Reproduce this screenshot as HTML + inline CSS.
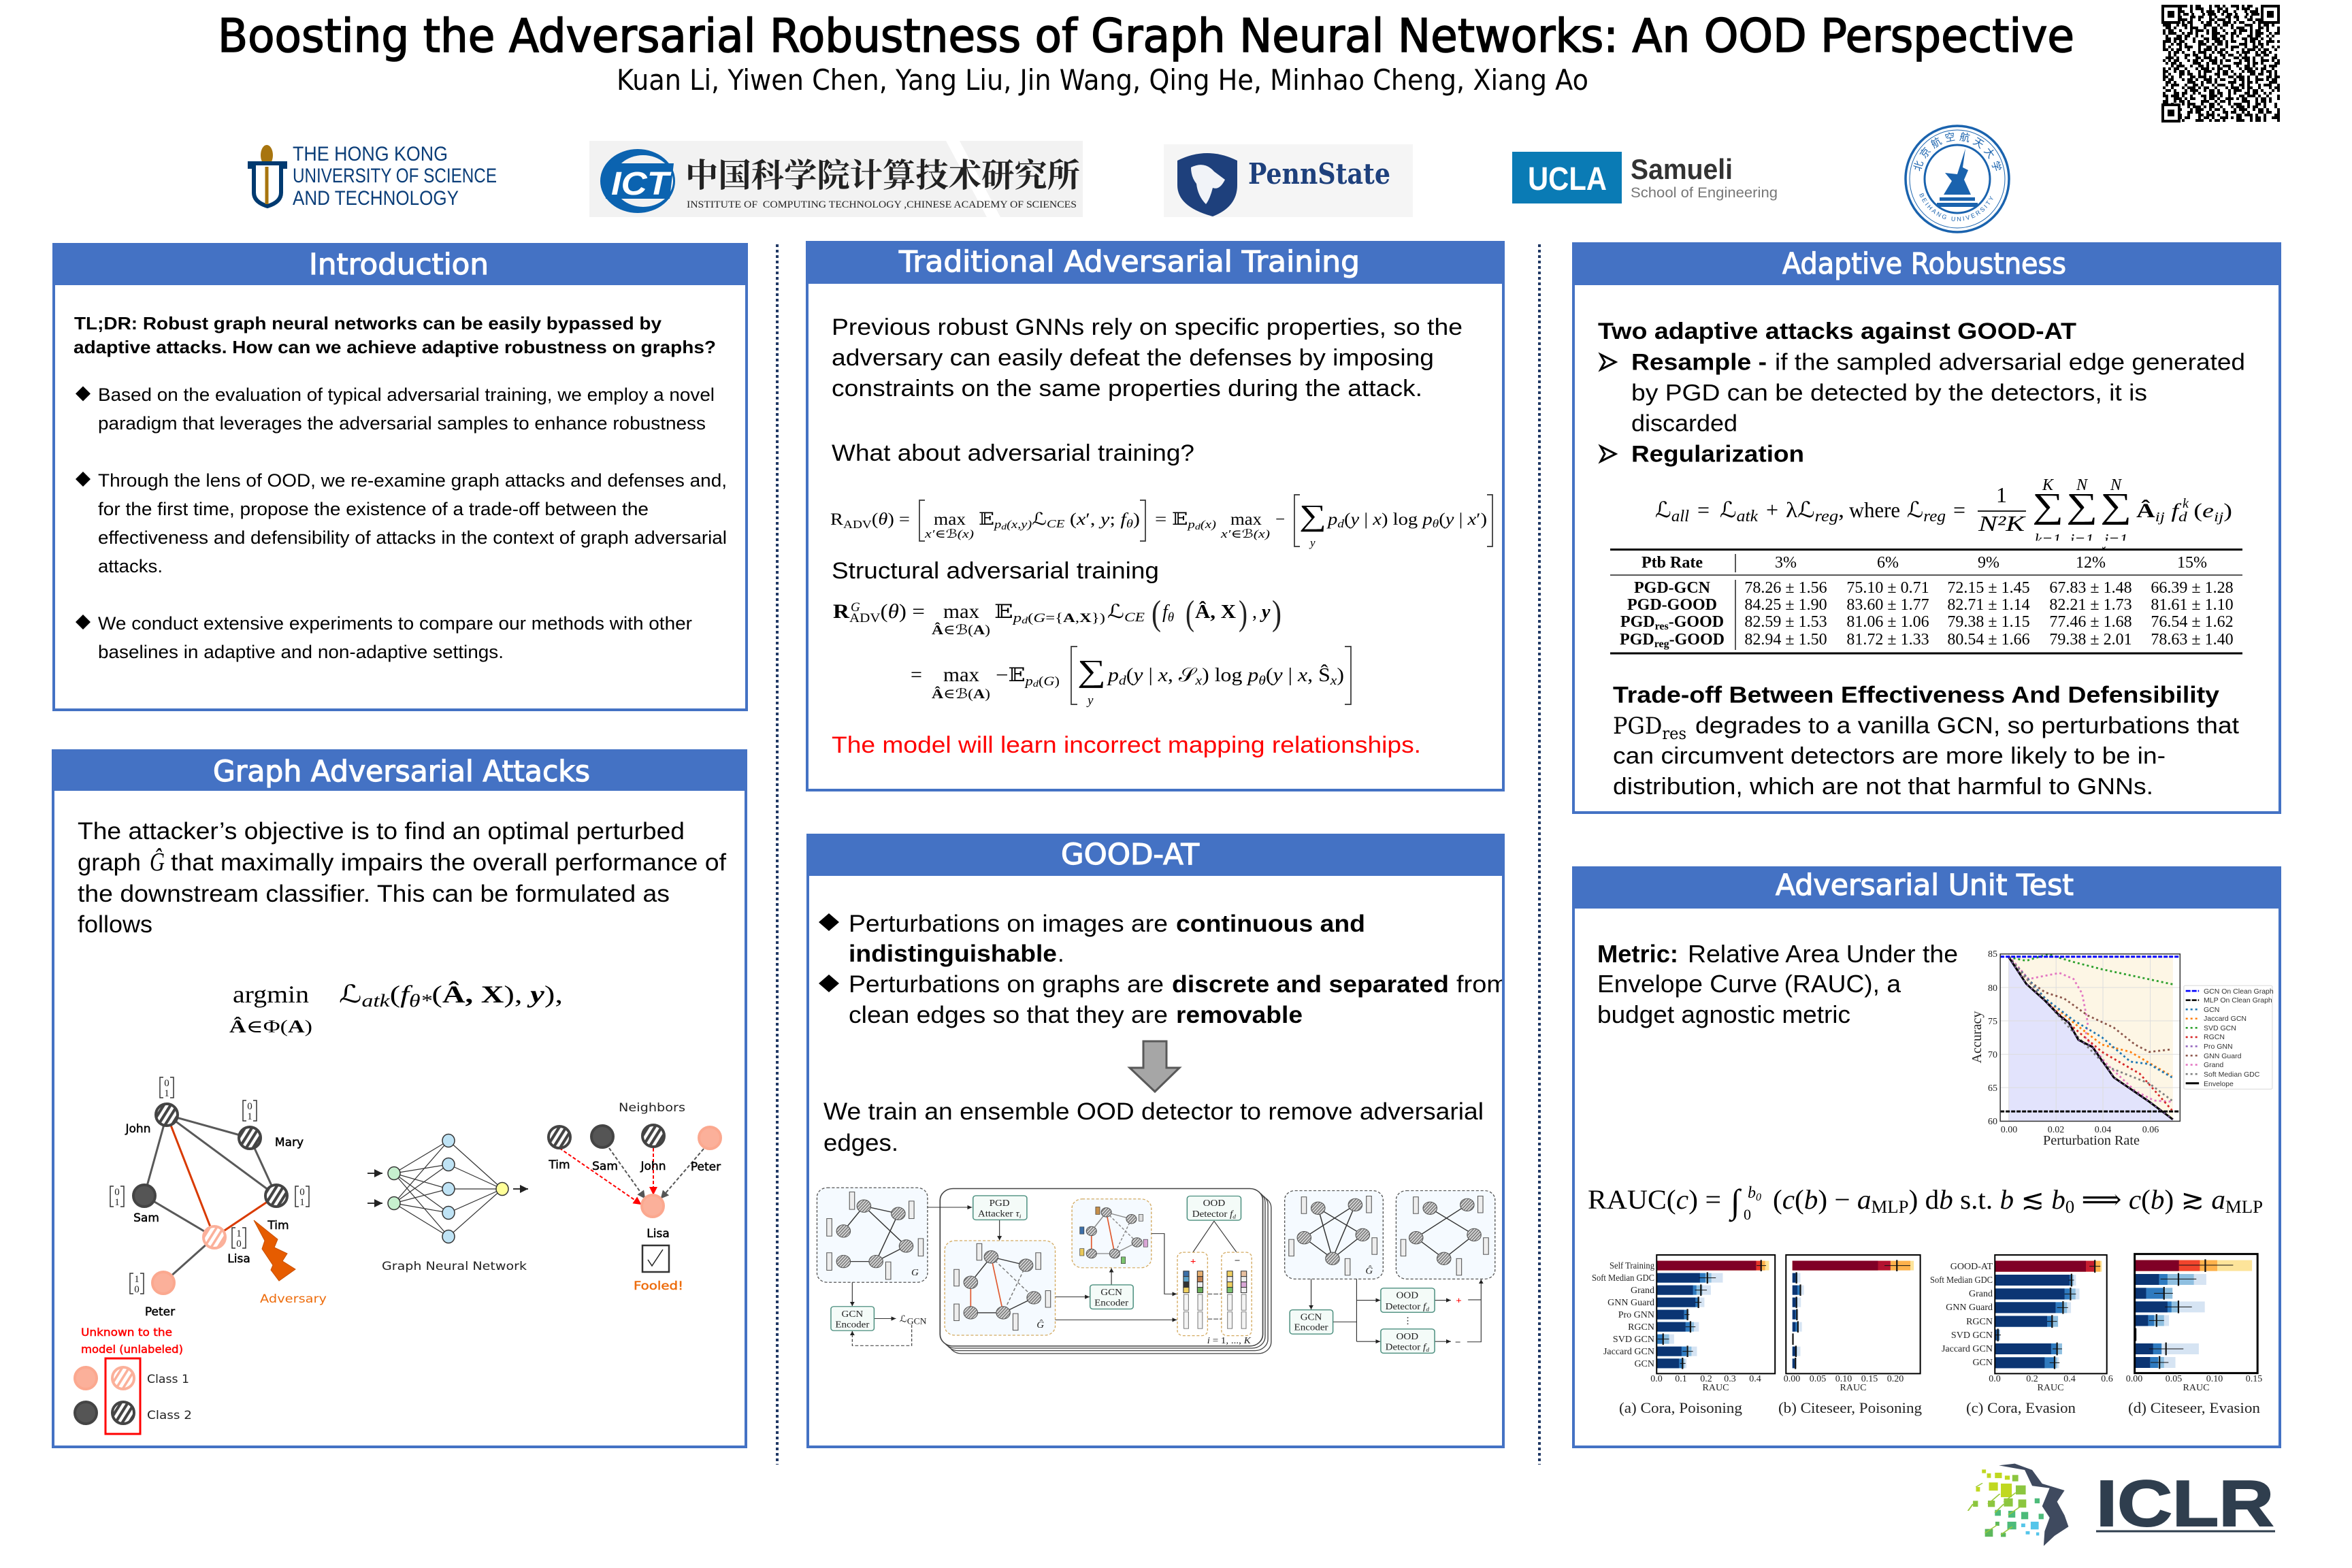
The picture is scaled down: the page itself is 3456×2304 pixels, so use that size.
<!DOCTYPE html>
<html><head><meta charset="utf-8"><style>
html,body{margin:0;padding:0;background:#fff;width:3456px;height:2304px;overflow:hidden}
svg{display:block}
text{font-family:"Liberation Sans","Noto Sans CJK SC",sans-serif;fill:#000;white-space:pre}
.h{font-family:"DejaVu Sans",sans-serif;fill:#fff;stroke:#fff;stroke-width:1.2}
.c{font-family:"DejaVu Sans",sans-serif;font-size:17px;stroke:#000;stroke-width:.5}
.m{font-family:"Liberation Serif","DejaVu Serif","DejaVu Sans",serif}
.i{font-style:italic}
.b{font-weight:bold}
.n{font-family:"Liberation Serif",serif;font-size:22px}
.t{font-family:"Liberation Serif",serif;font-size:24px}
.tk{font-family:"Liberation Serif",serif;font-size:14px;fill:#222}
.lg{font-family:"Liberation Sans",sans-serif;font-size:10.5px;fill:#333}
.mx{font-family:"Liberation Serif",serif;font-size:15px;fill:#222}
.dg{font-family:"Liberation Serif",serif;font-size:22px;text-anchor:middle;fill:#222}
</style></head><body>
<svg xmlns="http://www.w3.org/2000/svg" width="3456" height="2304" viewBox="0 0 3456 2304">
<defs>
<pattern id="hg" width="8.5" height="8.5" patternUnits="userSpaceOnUse" patternTransform="rotate(32)"><rect width="8.5" height="8.5" fill="#fff"/><rect width="4.2" height="8.5" fill="#444"/></pattern>
<pattern id="hp" width="8.5" height="8.5" patternUnits="userSpaceOnUse" patternTransform="rotate(32)"><rect width="8.5" height="8.5" fill="#fff"/><rect width="3.6" height="8.5" fill="#fbb09a"/></pattern>
<pattern id="hs" width="5" height="5" patternUnits="userSpaceOnUse" patternTransform="rotate(40)"><rect width="5" height="5" fill="#ddd"/><rect width="2.4" height="5" fill="#777"/></pattern>
<marker id="ak" markerWidth="7" markerHeight="7" refX="6" refY="3" orient="auto"><path d="M0 0L6 3L0 6z" fill="#222"/></marker>
<marker id="ar" markerWidth="6" markerHeight="6" refX="5" refY="3" orient="auto"><path d="M0 0L6 3L0 6z" fill="#f00"/></marker>
<marker id="ag" markerWidth="6" markerHeight="6" refX="5" refY="3" orient="auto"><path d="M0 0L6 3L0 6z" fill="#555"/></marker>
</defs>

<!-- Title -->
<text class="h" x="320" y="76" font-size="68" textLength="2728" lengthAdjust="spacingAndGlyphs" style="fill:#000;stroke:#000;stroke-width:1.6">Boosting the Adversarial Robustness of Graph Neural Networks: An OOD Perspective</text>
<text class="h" x="906" y="132" font-size="42" textLength="1428" lengthAdjust="spacingAndGlyphs" style="fill:#000;stroke:none">Kuan Li, Yiwen Chen, Yang Liu, Jin Wang, Qing He, Minhao Cheng, Xiang Ao</text>

<!-- QR -->
<g stroke="#000" stroke-width="4" fill="none">
<path d="M3178 9h172" stroke-dasharray="8 4 4 8 12 4 4 4 8 12 4 4"/>
<path d="M3178 13h172" stroke-dasharray="4 8 8 4 4 12 4 4 12 8"/>
<path d="M3178 17h172" stroke-dasharray="12 4 4 4 8 8 4 12 4 4"/>
<path d="M3178 21h172" stroke-dasharray="4 4 12 8 4 4 8 4 4 12" stroke-dashoffset="6"/>
<path d="M3178 25h172" stroke-dasharray="8 8 4 4 4 12 8 4"/>
<path d="M3178 29h172" stroke-dasharray="4 12 8 4 12 4 4 8" stroke-dashoffset="4"/>
<path d="M3178 33h172" stroke-dasharray="8 4 4 8 12 4 4 4 8 12 4 4" stroke-dashoffset="12"/>
<path d="M3178 37h172" stroke-dasharray="12 8 4 4 8 4 4 16"/>
<path d="M3178 41h172" stroke-dasharray="4 8 8 4 4 12 4 4 12 8" stroke-dashoffset="8"/>
<path d="M3178 45h172" stroke-dasharray="12 4 4 4 8 8 4 12 4 4" stroke-dashoffset="16"/>
<path d="M3178 49h172" stroke-dasharray="4 4 12 8 4 4 8 4 4 12"/>
<path d="M3178 53h172" stroke-dasharray="8 8 4 4 4 12 8 4" stroke-dashoffset="20"/>
<path d="M3178 57h172" stroke-dasharray="4 12 8 4 12 4 4 8" stroke-dashoffset="12"/>
<path d="M3178 61h172" stroke-dasharray="8 4 4 8 12 4 4 4 8 12 4 4" stroke-dashoffset="24"/>
<path d="M3178 65h172" stroke-dasharray="12 8 4 4 8 4 4 16" stroke-dashoffset="8"/>
<path d="M3178 69h172" stroke-dasharray="4 8 8 4 4 12 4 4 12 8" stroke-dashoffset="16"/>
<path d="M3178 73h172" stroke-dasharray="12 4 4 4 8 8 4 12 4 4" stroke-dashoffset="4"/>
<path d="M3178 77h172" stroke-dasharray="4 4 12 8 4 4 8 4 4 12" stroke-dashoffset="20"/>
<path d="M3178 81h172" stroke-dasharray="8 8 4 4 4 12 8 4" stroke-dashoffset="8"/>
<path d="M3178 85h172" stroke-dasharray="4 12 8 4 12 4 4 8" stroke-dashoffset="24"/>
<path d="M3178 89h172" stroke-dasharray="8 4 4 8 12 4 4 4 8 12 4 4" stroke-dashoffset="32"/>
<path d="M3178 93h172" stroke-dasharray="12 8 4 4 8 4 4 16" stroke-dashoffset="16"/>
<path d="M3178 97h172" stroke-dasharray="4 8 8 4 4 12 4 4 12 8" stroke-dashoffset="28"/>
<path d="M3178 101h172" stroke-dasharray="12 4 4 4 8 8 4 12 4 4" stroke-dashoffset="8"/>
<path d="M3178 105h172" stroke-dasharray="4 4 12 8 4 4 8 4 4 12" stroke-dashoffset="12"/>
<path d="M3178 109h172" stroke-dasharray="8 8 4 4 4 12 8 4" stroke-dashoffset="16"/>
<path d="M3178 113h172" stroke-dasharray="4 12 8 4 12 4 4 8" stroke-dashoffset="32"/>
<path d="M3178 117h172" stroke-dasharray="8 4 4 8 12 4 4 4 8 12 4 4" stroke-dashoffset="40"/>
<path d="M3178 121h172" stroke-dasharray="12 8 4 4 8 4 4 16" stroke-dashoffset="24"/>
<path d="M3178 125h172" stroke-dasharray="4 8 8 4 4 12 4 4 12 8" stroke-dashoffset="36"/>
<path d="M3178 129h172" stroke-dasharray="12 4 4 4 8 8 4 12 4 4" stroke-dashoffset="28"/>
<path d="M3178 133h172" stroke-dasharray="4 4 12 8 4 4 8 4 4 12" stroke-dashoffset="32"/>
<path d="M3178 137h172" stroke-dasharray="8 8 4 4 4 12 8 4" stroke-dashoffset="24"/>
<path d="M3178 141h172" stroke-dasharray="4 12 8 4 12 4 4 8" stroke-dashoffset="16"/>
<path d="M3178 145h172" stroke-dasharray="8 4 4 8 12 4 4 4 8 12 4 4" stroke-dashoffset="8"/>
<path d="M3178 149h172" stroke-dasharray="12 8 4 4 8 4 4 16" stroke-dashoffset="4"/>
<path d="M3178 153h172" stroke-dasharray="4 8 8 4 4 12 4 4 12 8" stroke-dashoffset="12"/>
<path d="M3178 157h172" stroke-dasharray="12 4 4 4 8 8 4 12 4 4" stroke-dashoffset="20"/>
<path d="M3178 161h172" stroke-dasharray="4 4 12 8 4 4 8 4 4 12" stroke-dashoffset="24"/>
<path d="M3178 165h172" stroke-dasharray="8 8 4 4 4 12 8 4" stroke-dashoffset="4"/>
<path d="M3178 169h172" stroke-dasharray="4 12 8 4 12 4 4 8" stroke-dashoffset="20"/>
<path d="M3178 173h172" stroke-dasharray="8 4 4 8 12 4 4 4 8 12 4 4" stroke-dashoffset="16"/>
<path d="M3178 177h172" stroke-dasharray="12 8 4 4 8 4 4 16" stroke-dashoffset="12"/>
</g>
<g fill="#fff" stroke="#000" stroke-width="4"><rect x="3178" y="9" width="24" height="24"/><rect x="3324" y="9" width="24" height="24"/><rect x="3178" y="154" width="24" height="24"/></g>
<g fill="#000"><rect x="3185" y="16" width="10" height="10"/><rect x="3331" y="16" width="10" height="10"/><rect x="3185" y="161" width="10" height="10"/></g>

<!-- HKUST logo -->
<ellipse cx="392" cy="228" rx="9" ry="15" fill="#a8750f"/>
<path d="M367 240h52v5h-6v38q0 14-20 20q-20-6-20-20v-38h-6z" fill="#fff" stroke="#003a70" stroke-width="6"/>
<path d="M392 245v55" stroke="#a8750f" stroke-width="5"/>
<g font-size="30">
<text x="430" y="236" textLength="228" lengthAdjust="spacingAndGlyphs" style="fill:#0a3d78">THE HONG KONG</text>
<text x="430" y="268" textLength="300" lengthAdjust="spacingAndGlyphs" style="fill:#0a3d78">UNIVERSITY OF SCIENCE</text>
<text x="430" y="301" textLength="244" lengthAdjust="spacingAndGlyphs" style="fill:#0a3d78">AND TECHNOLOGY</text>
</g>

<!-- ICT logo -->
<rect x="866" y="207" width="725" height="112" fill="#f2f2f2"/>
<path d="M1390 207h20l60 112h-20z" fill="#fff"/>
<ellipse cx="937" cy="266" rx="55" ry="47" fill="#0b63b0"/>
<ellipse cx="945" cy="266" rx="44" ry="38" fill="#f2f2f2"/>
<path d="M898 240h92l-6 52h-94z" fill="#0b63b0"/>
<text x="898" y="286" font-size="48" font-style="italic" font-weight="bold" style="fill:#fff" textLength="85" lengthAdjust="spacingAndGlyphs">ICT</text>
<text x="1007" y="274" font-size="48" textLength="580" lengthAdjust="spacingAndGlyphs" style="font-family:'Noto Serif CJK SC','Noto Sans CJK SC',serif;font-weight:bold;fill:#222">中国科学院计算技术研究所</text>
<text x="1009" y="305" font-size="15" textLength="573" lengthAdjust="spacingAndGlyphs" style="font-family:'Liberation Serif',serif;fill:#222">INSTITUTE OF  COMPUTING TECHNOLOGY ,CHINESE ACADEMY OF SCIENCES</text>

<!-- Penn State -->
<rect x="1710" y="212" width="366" height="107" fill="#f5f5f5"/>
<path d="M1730 236q44-22 88 0v36q0 32-36 46q-52-14-52-46z" fill="#1e407c"/>
<path d="M1750 246q20-10 34 6l16 12q-8 16-18 12q-4 16-10 24q-12-12-14-30q-8-10-8-24z" fill="#f1f3f8"/>
<text x="1834" y="270" font-size="42" font-weight="bold" textLength="209" lengthAdjust="spacingAndGlyphs" style="font-family:'DejaVu Serif',serif;fill:#1e407c">PennState</text>

<!-- UCLA -->
<rect x="2222" y="223" width="161" height="76" fill="#0a7bb5"/>
<text x="2245" y="279" font-size="48" font-weight="bold" textLength="116" lengthAdjust="spacingAndGlyphs" style="fill:#fff">UCLA</text>
<text x="2396" y="263" font-size="42" font-weight="bold" textLength="150" lengthAdjust="spacingAndGlyphs" style="fill:#333">Samueli</text>
<text x="2396" y="290" font-size="21" textLength="216" lengthAdjust="spacingAndGlyphs" style="fill:#777">School of Engineering</text>

<!-- Seal -->
<g fill="none" stroke="#1a63ae">
<ellipse cx="2876" cy="263" rx="76" ry="78" stroke-width="3.5"/>
<ellipse cx="2876" cy="263" rx="48" ry="50" stroke-width="3"/>
<ellipse cx="2876" cy="263" rx="70" ry="72" stroke-width="1"/>
</g>
<path id="sealT" d="M2821 263a55 57 0 0 1 110 0" fill="none"/>
<path id="sealB" d="M2816 263a60 62 0 0 0 120 0" fill="none"/>
<text font-size="15" style="fill:#1a63ae;font-family:'Noto Sans CJK SC',sans-serif"><textPath href="#sealT" startOffset="6%" textLength="155">北京航空航天大学</textPath></text>
<text font-size="9" style="fill:#1a63ae"><textPath href="#sealB" startOffset="12%" textLength="140">BEIHANG UNIVERSITY</textPath></text>
<path d="M2888 218l-12 38-18-2 10 12-12 20h40l-10-22 6-14-8-4z" fill="#1a63ae"/>
<path d="M2850 290h52v5h-52zM2846 298h60v6h-60z" fill="#1a63ae"/>

<!-- Dotted dividers -->
<path d="M1142 359V2152M2262 359V2152" stroke="#203864" stroke-width="4" stroke-dasharray="4 4" fill="none"/>

<!-- Panels -->
<g fill="#fff" stroke="#4472c4" stroke-width="4">
<rect x="79" y="359" width="1018" height="684"/>
<rect x="78" y="1103" width="1018" height="1023"/>
<rect x="1186" y="356" width="1023" height="805"/>
<rect x="1187" y="1227" width="1022" height="899"/>
<rect x="2312" y="358" width="1038" height="836"/>
<rect x="2312" y="1275" width="1038" height="851"/>
</g>
<g fill="#4472c4">
<rect x="77" y="357" width="1022" height="62"/>
<rect x="76" y="1101" width="1022" height="61"/>
<rect x="1184" y="354" width="1027" height="63"/>
<rect x="1185" y="1225" width="1026" height="62"/>
<rect x="2310" y="356" width="1042" height="63"/>
<rect x="2310" y="1273" width="1042" height="62"/>
</g>
<text class="h" x="454" y="403" font-size="43" textLength="264" lengthAdjust="spacingAndGlyphs">Introduction</text>
<text class="h" x="313" y="1148" font-size="43" textLength="554" lengthAdjust="spacingAndGlyphs">Graph Adversarial Attacks</text>
<text class="h" x="1321" y="399" font-size="43" textLength="677" lengthAdjust="spacingAndGlyphs">Traditional Adversarial Training</text>
<text class="h" x="1559" y="1270" font-size="43" textLength="203" lengthAdjust="spacingAndGlyphs">GOOD-AT</text>
<text class="h" x="2619" y="402" font-size="43" textLength="417" lengthAdjust="spacingAndGlyphs">Adaptive Robustness</text>
<text class="h" x="2609" y="1315" font-size="43" textLength="438" lengthAdjust="spacingAndGlyphs">Adversarial Unit Test</text>

<!-- Introduction -->
<g font-size="26" font-weight="bold">
<text x="109" y="484" textLength="863" lengthAdjust="spacingAndGlyphs">TL;DR: Robust graph neural networks can be easily bypassed by</text>
<text x="108" y="519" textLength="944" lengthAdjust="spacingAndGlyphs">adaptive attacks. How can we achieve adaptive robustness on graphs?</text>
</g>
<path d="M122 567.5l11 11-11 11-11-11zM122 693l11 11-11 11-11-11zM122 903l11 11-11 11-11-11z" fill="#000"/>
<g font-size="27" style="fill:#222">
<text x="144" y="589" textLength="906" lengthAdjust="spacingAndGlyphs">Based on the evaluation of typical adversarial training, we employ a novel</text>
<text x="144" y="631" textLength="893" lengthAdjust="spacingAndGlyphs">paradigm that leverages the adversarial samples to enhance robustness</text>
<text x="144" y="715" textLength="924" lengthAdjust="spacingAndGlyphs">Through the lens of OOD, we re-examine graph attacks and defenses and,</text>
<text x="144" y="757" textLength="809" lengthAdjust="spacingAndGlyphs">for the first time, propose the existence of a trade-off between the</text>
<text x="144" y="799" textLength="924" lengthAdjust="spacingAndGlyphs">effectiveness and defensibility of attacks in the context of graph adversarial</text>
<text x="144" y="841" textLength="95" lengthAdjust="spacingAndGlyphs">attacks.</text>
<text x="144" y="925" textLength="873" lengthAdjust="spacingAndGlyphs">We conduct extensive experiments to compare our methods with other</text>
<text x="144" y="967" textLength="596" lengthAdjust="spacingAndGlyphs">baselines in adaptive and non-adaptive settings.</text>
</g>

<!-- Graph Adversarial Attacks -->
<g font-size="35">
<text x="114" y="1233" textLength="892" lengthAdjust="spacingAndGlyphs">The attacker’s objective is to find an optimal perturbed</text>
<text x="114" y="1279" textLength="93" lengthAdjust="spacingAndGlyphs">graph</text>
<text x="220" y="1279" class="m i" font-size="38" textLength="22" lengthAdjust="spacingAndGlyphs">Ĝ</text>
<text x="251" y="1279" textLength="816" lengthAdjust="spacingAndGlyphs">that maximally impairs the overall performance of</text>
<text x="114" y="1325" textLength="870" lengthAdjust="spacingAndGlyphs">the downstream classifier. This can be formulated as</text>
<text x="114" y="1370" textLength="110" lengthAdjust="spacingAndGlyphs">follows</text>
</g>
<text class="m" x="342" y="1473" font-size="36" textLength="112" lengthAdjust="spacingAndGlyphs">argmin</text>
<text class="m" x="337" y="1517" font-size="26" textLength="122" lengthAdjust="spacingAndGlyphs"><tspan class="b">Â</tspan>∈Φ(<tspan class="b">A</tspan>)</text>
<text class="m" x="498" y="1473" font-size="36" textLength="329" lengthAdjust="spacingAndGlyphs">ℒ<tspan class="i" font-size="26" dy="6">atk</tspan><tspan dy="-6">(</tspan><tspan class="i">f</tspan><tspan class="i" font-size="26" dy="6">θ*</tspan><tspan dy="-6">(</tspan><tspan class="b">Â, X</tspan>), <tspan class="b i">y</tspan>),</text>

<!-- Left graph -->
<g stroke="#595959" stroke-width="3" fill="none">
<path d="M245 1638L367 1672M245 1638L212 1757M245 1638L406 1757M367 1672L406 1757M212 1757L315 1818M315 1818L240 1885"/>
</g>
<path d="M245 1638L315 1818M406 1757L315 1818" stroke="#d93a00" stroke-width="3" fill="none"/>
<g stroke-width="4">
<circle cx="245" cy="1638" r="16" fill="url(#hg)" stroke="#444"/>
<circle cx="367" cy="1672" r="16" fill="url(#hg)" stroke="#444"/>
<circle cx="212" cy="1757" r="16" fill="#555" stroke="#444"/>
<circle cx="406" cy="1757" r="16" fill="url(#hg)" stroke="#444"/>
<circle cx="315" cy="1818" r="16" fill="url(#hp)" stroke="#fbb09a"/>
<circle cx="240" cy="1885" r="16" fill="#fbb09a" stroke="#fba88f"/>
</g>
<text class="c" x="203" y="1664" text-anchor="middle">John</text>
<text class="c" x="425" y="1684" text-anchor="middle">Mary</text>
<text class="c" x="215" y="1795" text-anchor="middle">Sam</text>
<text class="c" x="409" y="1806" text-anchor="middle">Tim</text>
<text class="c" x="351" y="1855" text-anchor="middle">Lisa</text>
<text class="c" x="235" y="1933" text-anchor="middle">Peter</text>
<g fill="none" stroke="#333" stroke-width="1.5">
<path d="M240 1583h-5v30h5M250 1583h5v30h-5M362 1617h-5v30h5M372 1617h5v30h-5M167 1743h-5v30h5M177 1743h5v30h-5M439 1743h-5v30h5M449 1743h5v30h-5M346 1804h-5v30h5M356 1804h5v30h-5M196 1871h-5v30h5M206 1871h5v30h-5"/>
</g>
<text class="mx" x="245" y="1596" text-anchor="middle">0</text><text class="mx" x="245" y="1611" text-anchor="middle">1</text>
<text class="mx" x="367" y="1630" text-anchor="middle">0</text><text class="mx" x="367" y="1645" text-anchor="middle">1</text>
<text class="mx" x="172" y="1756" text-anchor="middle">0</text><text class="mx" x="172" y="1771" text-anchor="middle">1</text>
<text class="mx" x="444" y="1756" text-anchor="middle">0</text><text class="mx" x="444" y="1771" text-anchor="middle">1</text>
<text class="mx" x="351" y="1817" text-anchor="middle">1</text><text class="mx" x="351" y="1832" text-anchor="middle">0</text>
<text class="mx" x="201" y="1884" text-anchor="middle">1</text><text class="mx" x="201" y="1899" text-anchor="middle">0</text>
<polygon points="373,1793 408,1821 403,1833 422,1842 415,1853 434,1865 410,1882 398,1866 401,1859 385,1835 389,1823" fill="#e65c00" stroke="#c84f00" stroke-width="1"/>
<text class="c" x="382" y="1914" textLength="98" lengthAdjust="spacingAndGlyphs" style="fill:#ed6c0c;stroke:none">Adversary</text>
<text class="c" x="119" y="1963" textLength="134" lengthAdjust="spacingAndGlyphs" style="fill:#f00;stroke:#f00;font-size:16px">Unknown to the</text>
<text class="c" x="119" y="1988" textLength="150" lengthAdjust="spacingAndGlyphs" style="fill:#f00;stroke:#f00;font-size:16px">model (unlabeled)</text>
<rect x="155" y="1996" width="51" height="111" fill="none" stroke="#f00" stroke-width="3"/>
<g stroke-width="4">
<circle cx="126" cy="2025" r="16" fill="#fbb09a" stroke="#fba88f"/>
<circle cx="181" cy="2025" r="16" fill="url(#hp)" stroke="#fbb09a"/>
<circle cx="126" cy="2076" r="16" fill="#555" stroke="#444"/>
<circle cx="181" cy="2076" r="16" fill="url(#hg)" stroke="#444"/>
</g>
<text class="c" x="216" y="2032" textLength="62" lengthAdjust="spacingAndGlyphs" style="stroke:none;fill:#222">Class 1</text>
<text class="c" x="216" y="2085" textLength="66" lengthAdjust="spacingAndGlyphs" style="stroke:none;fill:#222">Class 2</text>

<!-- GNN -->
<g stroke="#333" stroke-width="1.2" fill="none">
<path d="M579 1724L659 1676M579 1724L659 1711M579 1724L659 1747M579 1724L659 1782M579 1724L659 1817M579 1768L659 1676M579 1768L659 1711M579 1768L659 1747M579 1768L659 1782M579 1768L659 1817M659 1676L738 1747M659 1711L738 1747M659 1747L738 1747M659 1782L738 1747M659 1817L738 1747"/>
<path d="M540 1724H562" stroke-width="2" marker-end="url(#ak)"/>
<path d="M540 1768H562" stroke-width="2" marker-end="url(#ak)"/>
<path d="M754 1747H776" stroke-width="2" marker-end="url(#ak)"/>
</g>
<g stroke="#333" stroke-width="1.5" fill="#bfe3f5">
<ellipse cx="579" cy="1724" rx="9" ry="9.5" fill="#c6efce"/><ellipse cx="579" cy="1768" rx="9" ry="9.5" fill="#c6efce"/>
<ellipse cx="659" cy="1676" rx="9" ry="9.5"/><ellipse cx="659" cy="1711" rx="9" ry="9.5"/><ellipse cx="659" cy="1747" rx="9" ry="9.5"/><ellipse cx="659" cy="1782" rx="9" ry="9.5"/><ellipse cx="659" cy="1817" rx="9" ry="9.5"/>
<ellipse cx="738" cy="1747" rx="9" ry="9.5" fill="#ffff99"/>
</g>
<text class="c" x="561" y="1866" textLength="213" lengthAdjust="spacingAndGlyphs" style="stroke:none;fill:#222">Graph Neural Network</text>

<!-- Right neighbors -->
<text class="c" x="909" y="1633" textLength="98" lengthAdjust="spacingAndGlyphs" style="stroke:none;fill:#222">Neighbors</text>
<g fill="none" stroke-width="2" stroke-dasharray="5 3">
<path d="M895 1687L947 1760" stroke="#555" marker-end="url(#ag)"/>
<path d="M1034 1688L972 1760" stroke="#555" marker-end="url(#ag)"/>
<path d="M960 1687V1754" stroke="#f00" marker-end="url(#ar)"/>
<path d="M822 1688L941 1770" stroke="#f00" marker-end="url(#ar)" transform="translate(0 -1)"/>
</g>
<g stroke-width="4">
<circle cx="822" cy="1671" r="16" fill="url(#hg)" stroke="#444"/>
<circle cx="885" cy="1670" r="16" fill="#555" stroke="#444"/>
<circle cx="960" cy="1669" r="16" fill="url(#hg)" stroke="#444"/>
<circle cx="1043" cy="1672" r="16" fill="#fbb09a" stroke="#fba88f"/>
<circle cx="959" cy="1772" r="16" fill="#fbb09a" stroke="#fba88f"/>
</g>
<text class="c" x="822" y="1717" text-anchor="middle">Tim</text>
<text class="c" x="889" y="1719" text-anchor="middle">Sam</text>
<text class="c" x="960" y="1719" text-anchor="middle">John</text>
<text class="c" x="1037" y="1720" text-anchor="middle">Peter</text>
<text class="c" x="967" y="1818" text-anchor="middle">Lisa</text>
<rect x="944" y="1830" width="39" height="39" fill="#fff" stroke="#333" stroke-width="2.5"/>
<path d="M952 1851l6 9 16-24" fill="none" stroke="#222" stroke-width="1.5"/>
<text class="c" x="931" y="1895" textLength="73" lengthAdjust="spacingAndGlyphs" style="fill:#ed6c0c;stroke:#ed6c0c">Fooled!</text>

<!-- Traditional text -->
<g font-size="34">
<text x="1222" y="492" textLength="927" lengthAdjust="spacingAndGlyphs">Previous robust GNNs rely on specific properties, so the</text>
<text x="1222" y="537" textLength="885" lengthAdjust="spacingAndGlyphs">adversary can easily defeat the defenses by imposing</text>
<text x="1222" y="582" textLength="868" lengthAdjust="spacingAndGlyphs">constraints on the same properties during the attack.</text>
<text x="1222" y="677" textLength="533" lengthAdjust="spacingAndGlyphs">What about adversarial training?</text>
<text x="1222" y="850" textLength="481" lengthAdjust="spacingAndGlyphs">Structural adversarial training</text>
<text x="1222" y="1106" textLength="866" lengthAdjust="spacingAndGlyphs" style="fill:#f00">The model will learn incorrect mapping relationships.</text>
</g>
<!-- Formula 1 -->
<g class="m" font-size="25">
<text class="m" x="1220" y="771" font-size="25" textLength="117" lengthAdjust="spacingAndGlyphs">R<tspan font-size="17" dy="5">ADV</tspan><tspan dy="-5">(</tspan><tspan class="i">θ</tspan>) =</text>
<text class="m" x="1372" y="771" font-size="25" textLength="47" lengthAdjust="spacingAndGlyphs">max</text>
<text class="m i" x="1359" y="790" font-size="17" textLength="72" lengthAdjust="spacingAndGlyphs">x′∈ℬ(x)</text>
<text class="m" x="1438" y="771" font-size="25" textLength="237" lengthAdjust="spacingAndGlyphs">𝔼<tspan class="i" font-size="17" dy="5">p</tspan><tspan class="i" font-size="13" dy="2">d</tspan><tspan class="i" font-size="17" dy="-2">(x,y)</tspan><tspan dy="-5">ℒ</tspan><tspan class="i" font-size="17" dy="4">CE</tspan><tspan dy="-4"> (</tspan><tspan class="i">x</tspan>′, <tspan class="i">y</tspan>; <tspan class="i">f</tspan><tspan class="i" font-size="17" dy="4">θ</tspan><tspan dy="-4">)</tspan></text>
<text class="m" x="1697" y="771" font-size="25" textLength="90" lengthAdjust="spacingAndGlyphs">= 𝔼<tspan class="i" font-size="17" dy="5">p</tspan><tspan class="i" font-size="13" dy="2">d</tspan><tspan class="i" font-size="17" dy="-2">(x)</tspan></text>
<text class="m" x="1808" y="771" font-size="25" textLength="46" lengthAdjust="spacingAndGlyphs">max</text>
<text class="m i" x="1794" y="790" font-size="17" textLength="72" lengthAdjust="spacingAndGlyphs">x′∈ℬ(x)</text>
<text class="m" x="1874" y="771" font-size="25">−</text>
<text class="m" x="1909" y="772" font-size="44" textLength="40" lengthAdjust="spacingAndGlyphs">∑</text>
<text class="m i" x="1925" y="803" font-size="17">y</text>
<text class="m" x="1951" y="771" font-size="25" textLength="234" lengthAdjust="spacingAndGlyphs"><tspan class="i">p</tspan><tspan class="i" font-size="17" dy="4">d</tspan><tspan dy="-4">(</tspan><tspan class="i">y</tspan> | <tspan class="i">x</tspan>) log <tspan class="i">p</tspan><tspan class="i" font-size="17" dy="4">θ</tspan><tspan dy="-4">(</tspan><tspan class="i">y</tspan> | <tspan class="i">x</tspan>′)</text>
</g>
<path d="M1359 735h-8v60h8M1675 735h8v60h-8M1910 727h-8v76h8M2185 727h8v76h-8" fill="none" stroke="#333" stroke-width="1.7"/>
<!-- Formula 2 -->
<text class="m" x="1224" y="908" font-size="30" textLength="135" lengthAdjust="spacingAndGlyphs"><tspan class="b">R</tspan><tspan font-size="19" dy="6">ADV</tspan><tspan dy="-6">(</tspan><tspan class="i">θ</tspan>) =</text>
<text class="m i" x="1250" y="898" font-size="19">G</text>
<text class="m" x="1386" y="908" font-size="30" textLength="53" lengthAdjust="spacingAndGlyphs">max</text>
<text class="m" x="1369" y="932" font-size="20" textLength="86" lengthAdjust="spacingAndGlyphs"><tspan class="b">Â</tspan>∈ℬ(<tspan class="b">A</tspan>)</text>
<text class="m" x="1461" y="908" font-size="28" textLength="163" lengthAdjust="spacingAndGlyphs">𝔼<tspan class="i" font-size="19" dy="6">p</tspan><tspan class="i" font-size="14" dy="2">d</tspan><tspan font-size="19" dy="-2">(<tspan class="i">G</tspan>={<tspan class="b">A</tspan>,<tspan class="b">X</tspan>})</tspan></text>
<text class="m" x="1627" y="908" font-size="28" textLength="55" lengthAdjust="spacingAndGlyphs">ℒ<tspan class="i" font-size="19" dy="5">CE</tspan></text>
<text class="m" x="1692" y="918" font-size="52" textLength="14" lengthAdjust="spacingAndGlyphs" style="fill:#222">(</text>
<text class="m" x="1708" y="908" font-size="28"><tspan class="i">f</tspan><tspan class="i" font-size="19" dy="5">θ</tspan></text>
<text class="m" x="1742" y="918" font-size="52" textLength="13" lengthAdjust="spacingAndGlyphs" style="fill:#222">(</text>
<text class="m b" x="1756" y="908" font-size="28" textLength="60" lengthAdjust="spacingAndGlyphs">Â, X</text>
<text class="m" x="1820" y="918" font-size="52" textLength="13" lengthAdjust="spacingAndGlyphs" style="fill:#222">)</text>
<text class="m" x="1840" y="908" font-size="28">, <tspan class="b i">y</tspan></text>
<text class="m" x="1869" y="918" font-size="52" textLength="14" lengthAdjust="spacingAndGlyphs" style="fill:#222">)</text>
<!-- Formula 3 -->
<text class="m" x="1338" y="1001" font-size="30">=</text>
<text class="m" x="1386" y="1001" font-size="30" textLength="53" lengthAdjust="spacingAndGlyphs">max</text>
<text class="m" x="1369" y="1026" font-size="20" textLength="86" lengthAdjust="spacingAndGlyphs"><tspan class="b">Â</tspan>∈ℬ(<tspan class="b">A</tspan>)</text>
<text class="m" x="1463" y="1001" font-size="28" textLength="94" lengthAdjust="spacingAndGlyphs">−𝔼<tspan class="i" font-size="19" dy="6">p</tspan><tspan class="i" font-size="14" dy="2">d</tspan><tspan font-size="19" dy="-2">(<tspan class="i">G</tspan>)</tspan></text>
<path d="M1583 950h-9v85h9M1976 950h9v85h-9" fill="none" stroke="#333" stroke-width="1.7"/>
<text class="m" x="1583" y="1001" font-size="46" textLength="42" lengthAdjust="spacingAndGlyphs">∑</text>
<text class="m i" x="1598" y="1035" font-size="19">y</text>
<text class="m" x="1628" y="1001" font-size="28" textLength="347" lengthAdjust="spacingAndGlyphs"><tspan class="i">p</tspan><tspan class="i" font-size="19" dy="5">d</tspan><tspan dy="-5">(</tspan><tspan class="i">y</tspan> | <tspan class="i">x</tspan>, 𝒮<tspan class="i" font-size="19" dy="5">x</tspan><tspan dy="-5">) log </tspan><tspan class="i">p</tspan><tspan class="i" font-size="19" dy="5">θ</tspan><tspan dy="-5">(</tspan><tspan class="i">y</tspan> | <tspan class="i">x</tspan>, Ŝ<tspan class="i" font-size="19" dy="5">x</tspan><tspan dy="-5">)</tspan></text>

<!-- GOOD-AT -->
<path d="M1218 1342l15 13-15 13-15-13zM1218 1432l15 13-15 13-15-13z" fill="#000"/>
<g font-size="35">
<text x="1247" y="1369" textLength="469" lengthAdjust="spacingAndGlyphs">Perturbations on images are</text>
<text x="1728" y="1369" class="b" textLength="278" lengthAdjust="spacingAndGlyphs">continuous and</text>
<text x="1247" y="1413" class="b" textLength="306" lengthAdjust="spacingAndGlyphs">indistinguishable</text><text x="1554" y="1413">.</text>
<text x="1247" y="1458" textLength="463" lengthAdjust="spacingAndGlyphs">Perturbations on graphs are</text>
<text x="1722" y="1458" class="b" textLength="407" lengthAdjust="spacingAndGlyphs">discrete and separated</text>
<text x="2140" y="1458" textLength="76" lengthAdjust="spacingAndGlyphs">from</text>
<text x="1247" y="1503" textLength="469" lengthAdjust="spacingAndGlyphs">clean edges so that they are</text>
<text x="1728" y="1503" class="b" textLength="186" lengthAdjust="spacingAndGlyphs">removable</text>
<text x="1210" y="1645" textLength="970" lengthAdjust="spacingAndGlyphs">We train an ensemble OOD detector to remove adversarial</text>
<text x="1210" y="1691" textLength="110" lengthAdjust="spacingAndGlyphs">edges.</text>
</g>
<rect x="2207" y="1420" width="4" height="60" fill="#4472c4"/><rect x="2211" y="1420" width="14" height="60" fill="#fff"/>
<polygon points="1680,1530 1714,1530 1714,1569 1733,1569 1697,1604 1660,1569 1680,1569" fill="#a6a6a6" stroke="#595959" stroke-width="3"/>

<!-- GOOD-AT diagram (zoom coords) -->
<g transform="translate(1180,1220) scale(.6824,.6122)">
<g fill="none" stroke="#444" stroke-width="1.6">
<rect x="313" y="878" width="695" height="378" rx="28" fill="#fff" stroke-width="2"/>
<rect x="306" y="871" width="695" height="378" rx="28" fill="#fff" stroke-width="2"/>
<rect x="300" y="865" width="695" height="378" rx="28" fill="#fff" stroke-width="2"/>
<rect x="295" y="860" width="695" height="378" rx="28" fill="#fff" stroke-width="2.5"/>
</g>
<g fill="#f5faff" stroke="#555" stroke-width="2" stroke-dasharray="6 4">
<rect x="30" y="858" width="238" height="227" rx="22"/>
<rect x="1037" y="865" width="212" height="212" rx="22"/>
<rect x="1277" y="865" width="213" height="212" rx="22"/>
</g>
<g fill="#f5faff" stroke="#d4aa60" stroke-width="2" stroke-dasharray="6 4">
<rect x="305" y="985" width="238" height="227" rx="22"/>
<rect x="579" y="885" width="171" height="165" rx="22"/>
</g>
<g fill="none" stroke="#d4aa60" stroke-width="2" stroke-dasharray="6 4">
<rect x="806" y="1013" width="65" height="200" rx="12"/>
<rect x="901" y="1013" width="65" height="200" rx="12"/>
</g>
<g fill="none" stroke="#333" stroke-width="2.2">
<path d="M131 902L87 962M131 902L205 920M205 920L157 1035M131 902L222 998M222 998L157 1035M87 1035H157"/>
<path d="M405 1024L361 1085M405 1024L480 1044M361 1158H431M431 1158L497 1122"/>
<path d="M405 1024L497 1122M480 1044L431 1158" stroke-dasharray="7 5" stroke="#777"/>
<path d="M653 917L621 962M653 917L707 933M621 1016H671M671 1016L719 989" stroke="#888"/>
<path d="M653 917L719 989M707 933L671 1016" stroke-dasharray="6 4" stroke="#888"/>
<path d="M1109 907L1140 1028M1189 899L1140 1028M1189 899L1079 978M1109 907L1205 971M1079 978L1140 1028M1205 971L1140 1028"/>
<path d="M1430 899L1320 978M1350 907L1445 971M1320 978L1380 1028M1445 971L1380 1028"/>
</g>
<path d="M405 1024L431 1158M361 1085V1158M653 917L671 1016M621 962V1016" stroke="#e05a30" stroke-width="2.5" fill="none"/>
<g fill="url(#hs)" stroke="#555" stroke-width="1.6">
<circle cx="131" cy="902" r="15"/><circle cx="205" cy="920" r="15"/><circle cx="87" cy="962" r="15"/><circle cx="222" cy="998" r="15"/><circle cx="87" cy="1035" r="15"/><circle cx="157" cy="1035" r="15"/>
<circle cx="405" cy="1024" r="15"/><circle cx="480" cy="1044" r="15"/><circle cx="361" cy="1085" r="15"/><circle cx="497" cy="1122" r="15"/><circle cx="361" cy="1158" r="15"/><circle cx="431" cy="1158" r="15"/>
<circle cx="653" cy="917" r="11"/><circle cx="707" cy="933" r="11"/><circle cx="621" cy="962" r="11"/><circle cx="719" cy="989" r="11"/><circle cx="621" cy="1016" r="11"/><circle cx="671" cy="1016" r="11"/>
<circle cx="1109" cy="907" r="15"/><circle cx="1189" cy="899" r="15"/><circle cx="1079" cy="978" r="15"/><circle cx="1205" cy="971" r="15"/><circle cx="1140" cy="1028" r="15"/>
<circle cx="1350" cy="907" r="15"/><circle cx="1430" cy="899" r="15"/><circle cx="1320" cy="978" r="15"/><circle cx="1445" cy="971" r="15"/><circle cx="1380" cy="1028" r="15"/>
</g>
<!-- mini vectors -->
<g fill="#eee" stroke="#555" stroke-width="1.6">
<rect x="100" y="868" width="11" height="42"/><rect x="228" y="890" width="11" height="42"/><rect x="51" y="932" width="11" height="42"/><rect x="248" y="980" width="11" height="42"/><rect x="51" y="1014" width="11" height="42"/><rect x="178" y="1036" width="11" height="42"/>
<rect x="374" y="992" width="11" height="40"/><rect x="501" y="1014" width="11" height="40"/><rect x="325" y="1054" width="11" height="40"/><rect x="522" y="1105" width="11" height="40"/><rect x="325" y="1137" width="11" height="40"/><rect x="452" y="1160" width="11" height="40"/>
<rect x="1073" y="880" width="11" height="40"/><rect x="1213" y="878" width="11" height="40"/><rect x="1046" y="982" width="11" height="40"/><rect x="1225" y="978" width="11" height="40"/><rect x="1167" y="1028" width="11" height="40"/>
<rect x="1314" y="880" width="11" height="40"/><rect x="1453" y="878" width="11" height="40"/><rect x="1287" y="982" width="11" height="40"/><rect x="1465" y="978" width="11" height="40"/><rect x="1407" y="1028" width="11" height="40"/>
</g>
<g stroke="#333" stroke-width="1">
<rect x="630" y="904" width="9" height="18" fill="#c58f4a"/><rect x="723" y="922" width="9" height="16" fill="#ddd"/><rect x="596" y="952" width="9" height="17" fill="#3c6fa8"/><rect x="733" y="982" width="9" height="18" fill="#d9a6d6"/><rect x="596" y="1004" width="9" height="17" fill="#e8c85a"/><rect x="685" y="1024" width="9" height="16" fill="#7cc46f"/>
</g>
<!-- feature columns -->
<g stroke="#333" stroke-width="1.6">
<rect x="819" y="1058" width="12" height="13" fill="#3c6fa8"/><rect x="819" y="1071" width="12" height="13" fill="#5aa0c8"/><rect x="819" y="1084" width="12" height="13" fill="#333"/><rect x="819" y="1097" width="12" height="13" fill="#f0d060"/>
<rect x="849" y="1058" width="12" height="13" fill="#e8b070"/><rect x="849" y="1071" width="12" height="13" fill="#c08050"/><rect x="849" y="1084" width="12" height="13" fill="#eee"/><rect x="849" y="1097" width="12" height="13" fill="#6cae5a"/>
<rect x="913" y="1058" width="12" height="13" fill="#f0d060"/><rect x="913" y="1071" width="12" height="13" fill="#eee"/><rect x="913" y="1084" width="12" height="13" fill="#f0d060"/><rect x="913" y="1097" width="12" height="13" fill="#7cc46f"/>
<rect x="943" y="1058" width="12" height="13" fill="#e8c0a0"/><rect x="943" y="1071" width="12" height="13" fill="#eee"/><rect x="943" y="1084" width="12" height="13" fill="#d9a6d6"/><rect x="943" y="1097" width="12" height="13" fill="#eee"/>
</g>
<g fill="#f4f4f4" stroke="#777" stroke-width="1.5">
<rect x="820" y="1114" width="10" height="38"/><rect x="820" y="1156" width="10" height="40"/><rect x="850" y="1114" width="10" height="38"/><rect x="850" y="1156" width="10" height="40"/>
<rect x="914" y="1114" width="10" height="38"/><rect x="914" y="1156" width="10" height="40"/><rect x="944" y="1114" width="10" height="38"/><rect x="944" y="1156" width="10" height="40"/>
</g>
<!-- arrows -->
<g fill="none" stroke="#333" stroke-width="1.7">
<path d="M268 905H364" marker-end="url(#ak)"/>
<path d="M423 935V984" marker-end="url(#ak)"/>
<path d="M543 1120H617" marker-end="url(#ak)"/>
<path d="M543 1175H805" marker-end="url(#ak)"/>
<path d="M664 1091V1051" marker-end="url(#ak)"/>
<path d="M750 968H778V1113H805" marker-end="url(#ak)"/>
<path d="M885 938L840 1012M885 938L933 1012"/>
<path d="M871 1113H901M871 1173H901" stroke-dasharray="10 3"/>
<path d="M106 1085V1142" marker-end="url(#ak)"/>
<path d="M153 1172H200" marker-end="url(#ak)"/>
<path d="M234 1187V1237H106V1202" stroke-dasharray="7 4" marker-end="url(#ak)"/>
<path d="M1094 1077V1150" marker-end="url(#ak)"/>
<path d="M1141 1180H1192M1192 1077V1227"/>
<path d="M1192 1128H1243" marker-end="url(#ak)"/>
<path d="M1192 1227H1243" marker-end="url(#ak)"/>
<path d="M1360 1128H1395" marker-end="url(#ak)"/>
<path d="M1360 1227H1395" marker-end="url(#ak)"/>
<path d="M1432 1127H1460"/>
<path d="M1430 1228H1460V1078" marker-end="url(#ak)"/>
</g>
<g fill="#f4fbf8" stroke="#4c8f7f" stroke-width="2.2">
<rect x="60" y="1143" width="93" height="58" rx="6"/>
<rect x="366" y="877" width="116" height="58" rx="6"/>
<rect x="618" y="1091" width="93" height="58" rx="6"/>
<rect x="827" y="878" width="116" height="58" rx="6"/>
<rect x="1048" y="1151" width="93" height="58" rx="6"/>
<rect x="1244" y="1099" width="116" height="58" rx="6"/>
<rect x="1244" y="1197" width="116" height="58" rx="6"/>
</g>
<text class="dg" x="106" y="1168">GCN</text><text class="dg" x="106" y="1193">Encoder</text>
<text class="dg" x="423" y="902">PGD</text><text class="dg" x="423" y="927">Attacker <tspan class="i">τ</tspan><tspan class="i" font-size="14" dy="4">i</tspan></text>
<text class="dg" x="664" y="1116">GCN</text><text class="dg" x="664" y="1141">Encoder</text>
<text class="dg" x="885" y="902">OOD</text><text class="dg" x="885" y="928">Detector <tspan class="i">f</tspan><tspan class="i" font-size="14" dy="4">d</tspan></text>
<text class="dg" x="1094" y="1175">GCN</text><text class="dg" x="1094" y="1200">Encoder</text>
<text class="dg" x="1301" y="1123">OOD</text><text class="dg" x="1301" y="1150">Detector <tspan class="i">f</tspan><tspan class="i" font-size="14" dy="4">d</tspan></text>
<text class="dg" x="1301" y="1222">OOD</text><text class="dg" x="1301" y="1247">Detector <tspan class="i">f</tspan><tspan class="i" font-size="14" dy="4">d</tspan></text>
<text class="dg" x="1302" y="1184">⋮</text>
<text class="dg i" x="241" y="1068" font-size="32">G</text>
<text class="dg i" x="511" y="1194" font-size="32">Ĝ</text>
<text class="dg i" x="1219" y="1064" font-size="32">Ĝ</text>
<text class="dg" x="237" y="1180" font-size="26"><tspan class="m">ℒ</tspan><tspan font-size="20" dy="5">GCN</tspan></text>
<text class="dg" x="917" y="1232" font-size="20"><tspan class="i">i</tspan> = 1, ..., <tspan class="i">K</tspan></text>
<text class="dg b" x="840" y="1042" style="fill:#f00" font-size="26">+</text>
<text class="dg b" x="935" y="1040" font-size="26">−</text>
<text class="dg b" x="1412" y="1136" style="fill:#f00" font-size="26">+</text>
<text class="dg b" x="1410" y="1236" font-size="26">−</text>
</g>

<!-- Adaptive Robustness -->
<g font-size="34">
<text x="2348" y="498" class="b" textLength="703" lengthAdjust="spacingAndGlyphs">Two adaptive attacks against GOOD-AT</text>
<text x="2397" y="543.5" class="b" textLength="199" lengthAdjust="spacingAndGlyphs">Resample -</text>
<text x="2608" y="543.5" textLength="691" lengthAdjust="spacingAndGlyphs">if the sampled adversarial edge generated</text>
<text x="2397" y="588.5" textLength="758" lengthAdjust="spacingAndGlyphs">by PGD can be detected by the detectors, it is</text>
<text x="2397" y="633.5" textLength="156" lengthAdjust="spacingAndGlyphs">discarded</text>
<text x="2397" y="678.5" class="b" textLength="254" lengthAdjust="spacingAndGlyphs">Regularization</text>
<text x="2370" y="1032.5" class="b" textLength="891" lengthAdjust="spacingAndGlyphs">Trade-off Between Effectiveness And Defensibility</text>
<text x="2491" y="1077.5" textLength="799" lengthAdjust="spacingAndGlyphs">degrades to a vanilla GCN, so perturbations that</text>
<text x="2370" y="1122" textLength="812" lengthAdjust="spacingAndGlyphs">can circumvent detectors are more likely to be in-</text>
<text x="2370" y="1167" textLength="794" lengthAdjust="spacingAndGlyphs">distribution, which are not that harmful to GNNs.</text>
</g>
<text class="m" x="2370" y="1078" font-size="34" textLength="108" lengthAdjust="spacingAndGlyphs" style="font-family:'DejaVu Serif',serif">PGD<tspan font-size="24" dy="8">res</tspan></text>
<path d="M2352 521l22 11-22 11 6-11zM2352 656l22 11-22 11 6-11z" fill="#fff" stroke="#000" stroke-width="3"/>
<!-- Formula -->
<g class="m">
<text class="m" x="2432" y="760" font-size="32" textLength="50" lengthAdjust="spacingAndGlyphs">ℒ<tspan class="i" font-size="24" dy="6">all</tspan></text>
<text class="m" x="2494" y="760" font-size="32">=</text>
<text class="m" x="2527" y="760" font-size="32" textLength="56" lengthAdjust="spacingAndGlyphs">ℒ<tspan class="i" font-size="24" dy="6">atk</tspan></text>
<text class="m" x="2595" y="760" font-size="32">+</text>
<text class="m" x="2624" y="760" font-size="32" textLength="86" lengthAdjust="spacingAndGlyphs">λℒ<tspan class="i" font-size="24" dy="6">reg</tspan><tspan dy="-6">,</tspan></text>
<text class="m" x="2717" y="760" font-size="32" textLength="75" lengthAdjust="spacingAndGlyphs">where</text>
<text class="m" x="2802" y="760" font-size="32" textLength="57" lengthAdjust="spacingAndGlyphs">ℒ<tspan class="i" font-size="24" dy="6">reg</tspan></text>
<text class="m" x="2870" y="760" font-size="32">=</text>
<text class="m" x="2933" y="738" font-size="32">1</text>
<text class="m i" x="2907" y="780" font-size="32" textLength="68" lengthAdjust="spacingAndGlyphs">N²K</text>
<text class="m" x="2986" y="760" font-size="52" textLength="46" lengthAdjust="spacingAndGlyphs">∑</text>
<text class="m" x="3036" y="760" font-size="52" textLength="46" lengthAdjust="spacingAndGlyphs">∑</text>
<text class="m" x="3086" y="760" font-size="52" textLength="46" lengthAdjust="spacingAndGlyphs">∑</text>
<text class="m i" x="3009" y="720" font-size="24" text-anchor="middle">K</text>
<text class="m i" x="3059" y="720" font-size="24" text-anchor="middle">N</text>
<text class="m i" x="3109" y="720" font-size="24" text-anchor="middle">N</text>
<text class="m i" x="3009" y="801" font-size="24" text-anchor="middle">k=1</text>
<text class="m i" x="3059" y="801" font-size="24" text-anchor="middle">i=1</text>
<text class="m i" x="3109" y="801" font-size="24" text-anchor="middle">j=1</text>
<text class="m" x="3139" y="760" font-size="30" textLength="141" lengthAdjust="spacingAndGlyphs"><tspan class="b">Â</tspan><tspan class="i" font-size="20" dy="6">ij</tspan><tspan class="i" dy="-6"> f</tspan><tspan class="i" font-size="20" dy="6">d</tspan><tspan dy="-6"> (</tspan><tspan class="i">e</tspan><tspan class="i" font-size="20" dy="6">ij</tspan><tspan dy="-6">)</tspan></text>
<text class="m i" x="3207" y="746" font-size="20">k</text>
</g>
<rect x="2900" y="794.5" width="260" height="9" fill="#fff"/>
<path d="M2906 751h71" stroke="#222" stroke-width="2"/>
<!-- Table -->
<path d="M2366 807.5H3295M2366 960H3295" stroke="#000" stroke-width="3"/>
<path d="M2366 845H3295" stroke="#222" stroke-width="1.5"/>
<path d="M2550 814V841M2550 852V955" stroke="#222" stroke-width="1.5"/>
<text class="t b" x="2457" y="834" text-anchor="middle">Ptb Rate</text>
<text class="t" x="2624" y="834" text-anchor="middle">3%</text><text class="t" x="2774" y="834" text-anchor="middle">6%</text><text class="t" x="2922" y="834" text-anchor="middle">9%</text><text class="t" x="3072" y="834" text-anchor="middle">12%</text><text class="t" x="3221" y="834" text-anchor="middle">15%</text>
<text class="t b" x="2457" y="871" text-anchor="middle">PGD-GCN</text>
<text class="t" x="2624" y="871" text-anchor="middle">78.26 ± 1.56</text><text class="t" x="2774" y="871" text-anchor="middle">75.10 ± 0.71</text><text class="t" x="2922" y="871" text-anchor="middle">72.15 ± 1.45</text><text class="t" x="3072" y="871" text-anchor="middle">67.83 ± 1.48</text><text class="t" x="3221" y="871" text-anchor="middle">66.39 ± 1.28</text>
<text class="t b" x="2457" y="896" text-anchor="middle">PGD-GOOD</text>
<text class="t" x="2624" y="896" text-anchor="middle">84.25 ± 1.90</text><text class="t" x="2774" y="896" text-anchor="middle">83.60 ± 1.77</text><text class="t" x="2922" y="896" text-anchor="middle">82.71 ± 1.14</text><text class="t" x="3072" y="896" text-anchor="middle">82.21 ± 1.73</text><text class="t" x="3221" y="896" text-anchor="middle">81.61 ± 1.10</text>
<text class="t b" x="2457" y="921" text-anchor="middle">PGD<tspan font-size="16" dy="4">res</tspan><tspan dy="-4">-GOOD</tspan></text>
<text class="t" x="2624" y="921" text-anchor="middle">82.59 ± 1.53</text><text class="t" x="2774" y="921" text-anchor="middle">81.06 ± 1.06</text><text class="t" x="2922" y="921" text-anchor="middle">79.38 ± 1.15</text><text class="t" x="3072" y="921" text-anchor="middle">77.46 ± 1.68</text><text class="t" x="3221" y="921" text-anchor="middle">76.54 ± 1.62</text>
<text class="t b" x="2457" y="947" text-anchor="middle">PGD<tspan font-size="16" dy="4">reg</tspan><tspan dy="-4">-GOOD</tspan></text>
<text class="t" x="2624" y="947" text-anchor="middle">82.94 ± 1.50</text><text class="t" x="2774" y="947" text-anchor="middle">81.72 ± 1.33</text><text class="t" x="2922" y="947" text-anchor="middle">80.54 ± 1.66</text><text class="t" x="3072" y="947" text-anchor="middle">79.38 ± 2.01</text><text class="t" x="3221" y="947" text-anchor="middle">78.63 ± 1.40</text>

<!-- Adversarial Unit Test -->
<g font-size="36">
<text x="2347" y="1414" class="b" textLength="119" lengthAdjust="spacingAndGlyphs">Metric:</text>
<text x="2480" y="1414" textLength="397" lengthAdjust="spacingAndGlyphs">Relative Area Under the</text>
<text x="2347" y="1458" textLength="446" lengthAdjust="spacingAndGlyphs">Envelope Curve (RAUC), a</text>
<text x="2347" y="1503" textLength="372" lengthAdjust="spacingAndGlyphs">budget agnostic metric</text>
</g>
<!-- Line chart -->
<g transform="translate(2310,1260) scale(.6952,.3571)">
<rect x="905" y="397" width="380" height="688" fill="#fff"/>
<rect x="923" y="408" width="347" height="677" fill="#fdf6e5"/>
<polygon points="923,410 960,520 1000,590 1030,650 1050,680 1070,750 1100,780 1145,905 1220,1005 1270,1078 1270,1085 923,1085" fill="#e2e3fc"/>
<path d="M905 535H1285M905 672H1285M905 810H1285M905 947H1285M1023 397V1085M1122 397V1085M1222 397V1085M923 397V1085" vector-effect="non-scaling-stroke" stroke="#ddd" stroke-width="1" fill="none"/>
<g fill="none" stroke-width="2.8" stroke-dasharray="3 4" stroke-linejoin="round">
<polyline vector-effect="non-scaling-stroke" stroke="#2ca02c" points="923,410 960,425 1005,398 1060,430 1120,460 1270,522"/>
<polyline vector-effect="non-scaling-stroke" stroke="#e377c2" points="923,405 965,500 1030,475 1060,500 1078,560 1090,680 1085,740 1130,850 1190,960 1230,1000 1268,1005"/>
<polyline vector-effect="non-scaling-stroke" stroke="#8c564b" points="923,410 960,500 1000,555 1040,580 1090,650 1145,700 1190,770 1220,800 1265,790"/>
<polyline vector-effect="non-scaling-stroke" stroke="#ff7f0e" points="923,410 1000,580 1060,680 1120,770 1180,800 1268,900"/>
<polyline vector-effect="non-scaling-stroke" stroke="#1f77b4" points="923,410 1000,580 1060,670 1120,740 1180,840 1220,850 1268,905"/>
<polyline vector-effect="non-scaling-stroke" stroke="#d62728" points="923,410 1000,590 1060,700 1120,800 1200,890 1268,1040"/>
<polyline vector-effect="non-scaling-stroke" stroke="#7f7f7f" points="923,410 1000,590 1060,720 1130,860 1220,930 1268,1000"/>
</g>
<polyline vector-effect="non-scaling-stroke" fill="none" stroke="#000" stroke-width="3" points="923,410 960,520 1000,590 1030,650 1050,680 1070,750 1100,780 1145,905 1220,1005 1270,1078"/>
<polyline vector-effect="non-scaling-stroke" fill="none" stroke="#9467bd" stroke-width="1.5" stroke-dasharray="3 5" points="923,410 960,520 1000,590 1030,650 1050,680 1070,750 1100,780 1145,905 1220,1005 1270,1078"/>
<path vector-effect="non-scaling-stroke" d="M905 408H1285" stroke="#00f" stroke-width="3" stroke-dasharray="6 2" fill="none"/>
<path vector-effect="non-scaling-stroke" d="M905 1045H1285" stroke="#000" stroke-width="3" stroke-dasharray="6 2" fill="none"/>
<rect vector-effect="non-scaling-stroke" x="905" y="397" width="380" height="688" fill="none" stroke="#333" stroke-width="1.5"/>
<rect vector-effect="non-scaling-stroke" x="1293" y="527" width="187" height="426" rx="4" fill="#fff" stroke="#ddd" stroke-width="1.2"/>
<g fill="none" stroke-width="2.6">
<path vector-effect="non-scaling-stroke" d="M1297 549H1325" stroke="#00f" stroke-dasharray="7 2"/>
<path vector-effect="non-scaling-stroke" d="M1297 587H1325" stroke="#000" stroke-dasharray="7 2"/>
<path vector-effect="non-scaling-stroke" d="M1297 625H1325" stroke="#1f77b4" stroke-dasharray="3 4"/>
<path vector-effect="non-scaling-stroke" d="M1297 663H1325" stroke="#ff7f0e" stroke-dasharray="3 4"/>
<path vector-effect="non-scaling-stroke" d="M1297 701H1325" stroke="#2ca02c" stroke-dasharray="3 4"/>
<path vector-effect="non-scaling-stroke" d="M1297 739H1325" stroke="#d62728" stroke-dasharray="3 4"/>
<path vector-effect="non-scaling-stroke" d="M1297 777H1325" stroke="#9467bd" stroke-dasharray="3 4"/>
<path vector-effect="non-scaling-stroke" d="M1297 815H1325" stroke="#8c564b" stroke-dasharray="3 4"/>
<path vector-effect="non-scaling-stroke" d="M1297 853H1325" stroke="#e377c2" stroke-dasharray="3 4"/>
<path vector-effect="non-scaling-stroke" d="M1297 891H1325" stroke="#7f7f7f" stroke-dasharray="3 4"/>
<path vector-effect="non-scaling-stroke" d="M1297 929H1325" stroke="#000" stroke-width="3"/>
</g>
</g>
<text class="lg" x="3238" y="1460">GCN On Clean Graph</text>
<text class="lg" x="3238" y="1473">MLP On Clean Graph</text>
<text class="lg" x="3238" y="1487">GCN</text>
<text class="lg" x="3238" y="1500">Jaccard GCN</text>
<text class="lg" x="3238" y="1514">SVD GCN</text>
<text class="lg" x="3238" y="1527">RGCN</text>
<text class="lg" x="3238" y="1541">Pro GNN</text>
<text class="lg" x="3238" y="1555">GNN Guard</text>
<text class="lg" x="3238" y="1568">Grand</text>
<text class="lg" x="3238" y="1582">Soft Median GDC</text>
<text class="lg" x="3238" y="1596">Envelope</text>
<text class="tk" x="2928" y="1406" text-anchor="middle">85</text>
<text class="tk" x="2928" y="1456" text-anchor="middle">80</text>
<text class="tk" x="2928" y="1505" text-anchor="middle">75</text>
<text class="tk" x="2928" y="1554" text-anchor="middle">70</text>
<text class="tk" x="2928" y="1603" text-anchor="middle">65</text>
<text class="tk" x="2928" y="1652" text-anchor="middle">60</text>
<text class="tk" x="2952" y="1664" text-anchor="middle">0.00</text>
<text class="tk" x="3021" y="1664" text-anchor="middle">0.02</text>
<text class="tk" x="3090" y="1664" text-anchor="middle">0.04</text>
<text class="tk" x="3160" y="1664" text-anchor="middle">0.06</text>
<text class="m" x="0" y="0" font-size="20" text-anchor="middle" transform="translate(2911,1524) rotate(-90)" textLength="77" lengthAdjust="spacingAndGlyphs" style="fill:#222">Accuracy</text>
<text class="m" x="3002" y="1682" font-size="20" textLength="142" lengthAdjust="spacingAndGlyphs" style="fill:#222">Perturbation Rate</text>
<!-- RAUC formula -->
<text class="m" x="2333" y="1776" font-size="40" textLength="196" lengthAdjust="spacingAndGlyphs">RAUC(<tspan class="i">c</tspan>) =</text>
<text class="m" x="2543" y="1782" font-size="50">∫</text>
<text class="m i" x="2568" y="1760" font-size="24">b<tspan font-size="16" dy="4">0</tspan></text>
<text class="m" x="2562" y="1792" font-size="22">0</text>
<text class="m" x="2605" y="1776" font-size="40" textLength="720" lengthAdjust="spacingAndGlyphs">(<tspan class="i">c</tspan>(<tspan class="i">b</tspan>) − <tspan class="i">a</tspan><tspan font-size="26" dy="6">MLP</tspan><tspan dy="-6">) d</tspan><tspan class="i">b</tspan> s.t. <tspan class="i">b</tspan> ≲ <tspan class="i">b</tspan><tspan font-size="26" dy="6">0</tspan><tspan dy="-6"> ⟹ </tspan><tspan class="i">c</tspan>(<tspan class="i">b</tspan>) ≳ <tspan class="i">a</tspan><tspan font-size="26" dy="6">MLP</tspan></text>

<!-- Bar charts -->
<g transform="translate(2310,1820) scale(.7309,.3333)">
<!-- a -->
<path fill="#d6e4f3" d="M170 152H303v42H170zM170 206H279v42H170zM170 260H266v42H170zM170 314H236v42H170zM170 368H255v42H170zM170 422H205v42H170zM170 476H251v42H170zM170 529H230v42H170z"/>
<path fill="#8fbfe0" d="M170 152H280v42H170zM170 206H262v42H170zM170 260H255v42H170zM170 314H231v42H170zM170 368H245v42H170zM170 422H195v42H170zM170 476H240v42H170zM170 529H226v42H170z"/>
<path fill="#2f7abf" d="M170 152H268v42H170zM170 206H250v42H170zM170 260H255v42H170zM170 314H231v42H170zM170 368H238v42H170zM170 422H183v42H170zM170 476H230v42H170zM170 529H222v42H170z"/>
<path fill="#0b3573" d="M170 152H257v42H170zM170 206H243v42H170zM170 260H248v42H170zM170 314H225v42H170zM170 368H228v42H170zM170 476H220v42H170zM170 529H215v42H170z"/>
<path fill="#fde49a" d="M170 98H396v42H170z"/><path fill="#feb24c" d="M170 98H388v42H170z"/><path fill="#e8352a" d="M170 98H380v42H170z"/><path fill="#800026" d="M170 98H370v42H170z"/>
<path stroke="#111" stroke-width="3" fill="none" d="M380 94v50M272 148v50M259 202v50M254 256v50M232 310v50M238 364v50M183 418v50M232 472v50M222 525v50"/>
<path stroke="#111" stroke-width="3" fill="none" d="M371 119H390M255 173H289M247 227H271M247 281H260M226 335H236M228 389H248M172 443H195M222 497H243M217 550H228"/>
<rect x="170" y="72" width="238" height="523" fill="none" stroke="#000" stroke-width="2" vector-effect="non-scaling-stroke"/>
<!-- b -->
<path fill="#d6e4f3" d="M443 152H459v42H443zM443 206H466v42H443zM443 260H460v42H443zM443 314H455v42H443zM443 368H462v42H443zM443 476H459v42H443zM443 529H452v42H443z"/>
<path fill="#2f7abf" d="M443 152H453v42H443zM443 206H460v42H443zM443 260H453v42H443zM443 314H452v42H443zM443 368H453v42H443zM443 476H452v42H443zM443 529H450v42H443z"/>
<path fill="#0b3573" d="M443 152H449v42H443zM443 206H453v42H443zM443 260H449v42H443zM443 314H449v42H443zM443 368H449v42H443zM443 476H449v42H443zM443 529H447v42H443z"/>
<path fill="#fde49a" d="M443 98H687v42H443z"/><path fill="#feb24c" d="M443 98H680v42H443z"/><path fill="#b31230" d="M443 98H640v42H443z"/><path fill="#800026" d="M443 98H615v42H443z"/>
<path stroke="#111" stroke-width="3" fill="none" d="M653 94v50M451 148v50M459 202v50M451 256v50M452 310v50M454 364v50M444 418v50M450 472v50M449 525v50M628 119H680"/>
<rect x="430" y="72" width="270" height="523" fill="none" stroke="#000" stroke-width="2" vector-effect="non-scaling-stroke"/>
<!-- c -->
<path fill="#d6e4f3" d="M850 159H1013v48H850zM850 220H1020v48H850zM850 280H1003v48H850zM850 341H977v48H850zM850 401H861v48H850zM850 462H985v48H850zM850 523H979v48H850z"/>
<path fill="#8fbfe0" d="M850 159H1008v48H850zM850 220H1012v48H850zM850 280H995v48H850zM850 341H977v48H850zM850 462H985v48H850zM850 523H975v48H850z"/>
<path fill="#2f7abf" d="M850 159H1003v48H850zM850 220H1000v48H850zM850 280H985v48H850zM850 341H965v48H850zM850 401H859v48H850zM850 462H975v48H850zM850 523H970v48H850z"/>
<path fill="#0b3573" d="M850 159H1000v48H850zM850 220H990v48H850zM850 280H972v48H850zM850 341H955v48H850zM850 401H853v48H850zM850 462H963v48H850zM850 523H950v48H850z"/>
<path fill="#fde49a" d="M850 98H1065v48H850z"/><path fill="#feb24c" d="M850 98H1062v48H850z"/><path fill="#c81e30" d="M850 98H1050v48H850z"/><path fill="#800026" d="M850 98H1033v48H850z"/>
<path stroke="#111" stroke-width="3" fill="none" d="M1051 94v56M1004 155v56M1002 216v56M987 276v56M965 337v56M856 397v56M975 458v56M970 519v56M1040 122H1062M998 183H1009M990 244H1013M975 304H997M955 365H975M850 425H862M966 486H985M960 547H980"/>
<rect x="850" y="72" width="225" height="523" fill="none" stroke="#000" stroke-width="2" vector-effect="non-scaling-stroke"/>
<!-- d -->
<path fill="#d6e4f3" d="M1131 156H1275v48H1131zM1131 217H1207v48H1131zM1131 277H1272v48H1131zM1131 337H1200v48H1131zM1131 399H1135v48H1131zM1131 462H1260v48H1131zM1131 522H1213v48H1131z"/>
<path fill="#8fbfe0" d="M1131 156H1250v48H1131zM1131 217H1207v48H1131zM1131 277H1220v48H1131zM1131 337H1190v48H1131zM1131 462H1185v48H1131zM1131 522H1190v48H1131z"/>
<path fill="#2f7abf" d="M1131 156H1197v48H1131zM1131 217H1190v48H1131zM1131 277H1205v48H1131zM1131 337H1170v48H1131zM1131 462H1185v48H1131zM1131 522H1178v48H1131z"/>
<path fill="#0b3573" d="M1131 156H1180v48H1131zM1131 217H1154v48H1131zM1131 277H1197v48H1131zM1131 337H1158v48H1131zM1131 399H1133v48H1131zM1131 462H1168v48H1131zM1131 522H1162v48H1131z"/>
<path fill="#fde49a" d="M1131 95H1367v48H1131z"/><path fill="#feb24c" d="M1131 95H1297v48H1131z"/><path fill="#f0442c" d="M1131 95H1262v48H1131z"/><path fill="#800026" d="M1131 95H1220v48H1131z"/>
<path stroke="#111" stroke-width="3" fill="none" d="M1273 91v56M1219 152v56M1190 213v56M1219 273v56M1175 333v56M1133 395v56M1194 458v56M1181 518v56M1220 117H1329M1183 178H1255M1170 241H1208M1192 301H1246M1160 361H1190M1160 486H1229M1163 546H1199"/>
<rect x="1131" y="68" width="247" height="525" fill="none" stroke="#000" stroke-width="3" vector-effect="non-scaling-stroke"/>
</g>
<text class="tk" x="2431" y="1864" text-anchor="end" textLength="66" lengthAdjust="spacingAndGlyphs">Self Training</text>
<text class="tk" x="2431" y="1882" text-anchor="end" textLength="92" lengthAdjust="spacingAndGlyphs">Soft Median GDC</text>
<text class="tk" x="2431" y="1900" text-anchor="end">Grand</text>
<text class="tk" x="2431" y="1918" text-anchor="end">GNN Guard</text>
<text class="tk" x="2431" y="1936" text-anchor="end">Pro GNN</text>
<text class="tk" x="2431" y="1954" text-anchor="end">RGCN</text>
<text class="tk" x="2431" y="1972" text-anchor="end">SVD GCN</text>
<text class="tk" x="2431" y="1990" text-anchor="end">Jaccard GCN</text>
<text class="tk" x="2431" y="2008" text-anchor="end">GCN</text>
<text class="tk" x="2928" y="1865" text-anchor="end">GOOD-AT</text>
<text class="tk" x="2928" y="1885" text-anchor="end" textLength="92" lengthAdjust="spacingAndGlyphs">Soft Median GDC</text>
<text class="tk" x="2928" y="1905" text-anchor="end">Grand</text>
<text class="tk" x="2928" y="1925" text-anchor="end">GNN Guard</text>
<text class="tk" x="2928" y="1946" text-anchor="end">RGCN</text>
<text class="tk" x="2928" y="1966" text-anchor="end">SVD GCN</text>
<text class="tk" x="2928" y="1986" text-anchor="end">Jaccard GCN</text>
<text class="tk" x="2928" y="2006" text-anchor="end">GCN</text>
<text class="tk" x="2434" y="2030" text-anchor="middle">0.0</text><text class="tk" x="2470" y="2030" text-anchor="middle">0.1</text><text class="tk" x="2507" y="2030" text-anchor="middle">0.2</text><text class="tk" x="2542" y="2030" text-anchor="middle">0.3</text><text class="tk" x="2579" y="2030" text-anchor="middle">0.4</text>
<text class="tk" x="2633" y="2030" text-anchor="middle">0.00</text><text class="tk" x="2671" y="2030" text-anchor="middle">0.05</text><text class="tk" x="2709" y="2030" text-anchor="middle">0.10</text><text class="tk" x="2747" y="2030" text-anchor="middle">0.15</text><text class="tk" x="2785" y="2030" text-anchor="middle">0.20</text>
<text class="tk" x="2931" y="2030" text-anchor="middle">0.0</text><text class="tk" x="2986" y="2030" text-anchor="middle">0.2</text><text class="tk" x="3041" y="2030" text-anchor="middle">0.4</text><text class="tk" x="3096" y="2030" text-anchor="middle">0.6</text>
<text class="tk" x="3136" y="2030" text-anchor="middle">0.00</text><text class="tk" x="3194" y="2030" text-anchor="middle">0.05</text><text class="tk" x="3254" y="2030" text-anchor="middle">0.10</text><text class="tk" x="3312" y="2030" text-anchor="middle">0.15</text>
<text class="tk" x="2521" y="2043" text-anchor="middle">RAUC</text><text class="tk" x="2723" y="2043" text-anchor="middle">RAUC</text><text class="tk" x="3013" y="2043" text-anchor="middle">RAUC</text><text class="tk" x="3227" y="2043" text-anchor="middle">RAUC</text>
<text class="m" x="2379" y="2076" font-size="22" textLength="181" lengthAdjust="spacingAndGlyphs" style="fill:#222">(a) Cora, Poisoning</text>
<text class="m" x="2613" y="2076" font-size="22" textLength="211" lengthAdjust="spacingAndGlyphs" style="fill:#222">(b) Citeseer, Poisoning</text>
<text class="m" x="2889" y="2076" font-size="22" textLength="161" lengthAdjust="spacingAndGlyphs" style="fill:#222">(c) Cora, Evasion</text>
<text class="m" x="3127" y="2076" font-size="22" textLength="194" lengthAdjust="spacingAndGlyphs" style="fill:#222">(d) Citeseer, Evasion</text>

<!-- ICLR logo -->
<g transform="translate(2310,1820) scale(.7309,.3333)">
<polygon points="858,1000 890,992 925,1020 945,1080 990,1110 975,1160 990,1220 998,1270 970,1310 948,1355 950,1290 960,1230 945,1180 960,1100 925,1090 910,1020" fill="#3f4a5f"/>
<g fill="#c0d820"><rect x="824" y="1018" width="8" height="16"/><rect x="850" y="1032" width="14" height="24"/><rect x="834" y="1035" width="8" height="20"/><rect x="870" y="1045" width="10" height="18"/><rect x="838" y="1075" width="18" height="36"/><rect x="812" y="1095" width="8" height="20"/><rect x="862" y="1080" width="22" height="60"/></g>
<g fill="#8cc63f"><rect x="885" y="1042" width="12" height="28"/><rect x="892" y="1088" width="20" height="40"/><rect x="806" y="1156" width="10" height="26"/><rect x="836" y="1155" width="14" height="28"/><rect x="868" y="1145" width="18" height="36"/><rect x="897" y="1150" width="16" height="36"/></g>
<g fill="#4dbb7a"><rect x="850" y="1196" width="12" height="26"/><rect x="877" y="1200" width="14" height="30"/><rect x="903" y="1205" width="14" height="32"/><rect x="875" y="1248" width="18" height="34"/><rect x="930" y="1145" width="10" height="22"/><rect x="938" y="1213" width="10" height="24"/></g>
<g fill="#55c5ea"><rect x="922" y="1248" width="16" height="34"/><rect x="903" y="1256" width="8" height="16"/><rect x="933" y="1295" width="6" height="14"/><rect x="912" y="1290" width="8" height="14"/></g>
<g fill="#5cb85c"><rect x="830" y="1280" width="16" height="34"/><rect x="862" y="1297" width="10" height="18"/><rect x="851" y="1248" width="8" height="18"/></g>
<path d="M812 1095L825 1078M806 1170L796 1200M836 1170L860 1125M868 1160L892 1120M850 1208L868 1170M877 1218L902 1180M830 1298L855 1262M862 1305L885 1270" stroke="#9ac83a" stroke-width="3" fill="none"/>
</g>
<text x="3080" y="2242" font-size="96" font-weight="bold" textLength="261" lengthAdjust="spacingAndGlyphs" style="fill:#2f3e4e;stroke:#2f3e4e;stroke-width:2">ICLR</text>
<path d="M3080 2250H3343" stroke="#2f3e4e" stroke-width="3"/>
</svg>
</body></html>
